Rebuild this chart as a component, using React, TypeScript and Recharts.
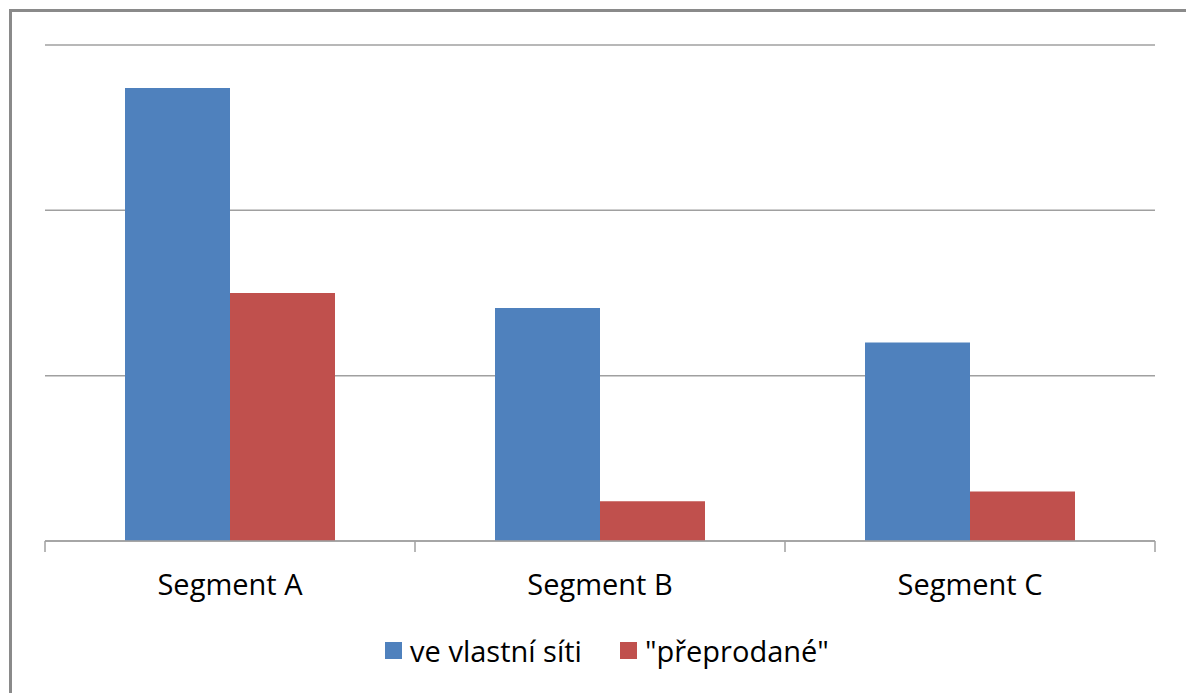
import React from 'react';
import { BarChart, Bar, XAxis, YAxis, CartesianGrid, Legend } from 'recharts';

const segments = ['Segment A', 'Segment B', 'Segment C'];
const vlastni = [2.74, 1.41, 1.2];
const preprodane = [1.5, 0.24, 0.3];
const yTicks = [0, 1, 2, 3];

const seriesKeys = ['own', 'resold'];
const seriesNames: Record<string, string> = { own: 've vlastní síti', resold: '"přeprodané"' };
const colors: Record<string, string> = { own: '#4F81BD', resold: '#C0504D' };

const data = segments.map((name, i) => ({
  name,
  own: vlastni[i],
  resold: preprodane[i],
}));

const FONT = '"Open Sans", sans-serif';
const AXIS_GRAY = '#a0a0a0';

// label in the middle of the category, tick marks on the category boundaries
function CategoryTick({ x, y, payload, index }: any) {
  const half = payload.offset || 0;
  const axisY = y - 8;
  return (
    <g>
      <line x1={x - half} x2={x - half} y1={axisY} y2={axisY + 11} stroke={AXIS_GRAY} strokeWidth={1.5} />
      {index === segments.length - 1 && (
        <line x1={x + half} x2={x + half} y1={axisY} y2={axisY + 11} stroke={AXIS_GRAY} strokeWidth={1.5} />
      )}
      <text x={x} y={y + 46} textAnchor="middle" fill="#000" fontFamily={FONT} fontSize={29}>
        {payload.value}
      </text>
    </g>
  );
}

function LegendContent() {
  return (
    <div style={{ display: 'flex', justifyContent: 'center', alignItems: 'center', paddingLeft: 28, fontFamily: FONT, fontSize: 29, color: '#000' }}>
      {seriesKeys.map((key, i) => (
        <div key={key} style={{ display: 'flex', alignItems: 'center', marginLeft: i === 0 ? 0 : 38 }}>
          <span style={{ width: 17, height: 17, background: colors[key], display: 'inline-block', marginRight: 8 }} />
          <span>{seriesNames[key]}</span>
        </div>
      ))}
    </div>
  );
}

export default function App() {
  return (
    <div style={{ position: 'absolute', left: 0, top: 0, width: 1186, height: 693, background: '#fff' }}>
      <div
        style={{
          position: 'absolute',
          left: 9,
          top: 9,
          width: 1177,
          height: 684,
          borderTop: '3px solid #8a8a8a',
          borderLeft: '3px solid #8a8a8a',
        }}
      />
      <div style={{ position: 'absolute', left: 0, top: 0 }}>
        <BarChart
          width={1186}
          height={693}
          data={data}
          margin={{ top: 45, right: 31, left: 45, bottom: 92 }}
          barCategoryGap={80}
          barGap={0}
        >
          <CartesianGrid vertical={false} stroke={AXIS_GRAY} strokeWidth={1.5} />
          <YAxis hide domain={[0, 3]} ticks={yTicks} />
          <XAxis
            dataKey="name"
            height={60}
            axisLine={{ stroke: AXIS_GRAY, strokeWidth: 1.5 }}
            tickLine={false}
            tick={<CategoryTick />}
            interval={0}
          />
          <Legend
            layout="horizontal"
            verticalAlign="middle"
            align="center"
            wrapperStyle={{ top: 631, left: 0, width: 1186 }}
            content={<LegendContent />}
          />
          <Bar dataKey="own" name={seriesNames.own} fill={colors.own} isAnimationActive={false} />
          <Bar dataKey="resold" name={seriesNames.resold} fill={colors.resold} isAnimationActive={false} />
        </BarChart>
      </div>
    </div>
  );
}
